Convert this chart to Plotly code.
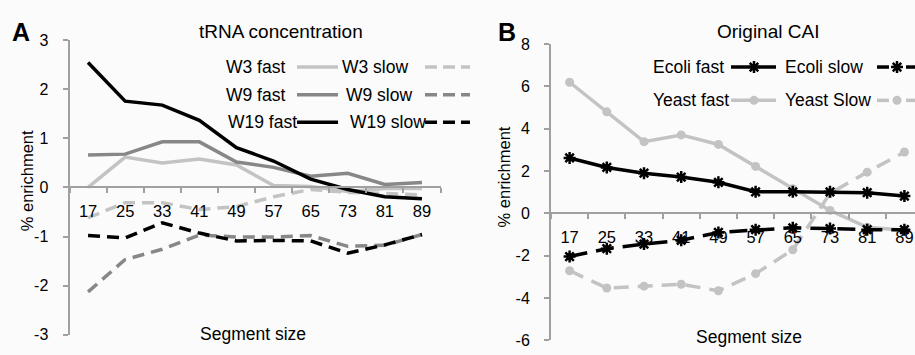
import plotly.graph_objects as go

# ---------------- data ----------------
segments = ["17", "25", "33", "41", "49", "57", "65", "73", "81", "89"]

w3_fast = [0.0, 0.62, 0.50, 0.58, 0.46, 0.04, 0.02, -0.08, -0.02, -0.02]
w3_slow = [-0.62, -0.31, -0.31, -0.45, -0.39, -0.19, -0.04, -0.10, -0.12, -0.15]
w9_fast = [0.66, 0.68, 0.93, 0.93, 0.52, 0.41, 0.23, 0.29, 0.06, 0.10]
w9_slow = [-2.13, -1.47, -1.26, -0.97, -1.01, -1.01, -0.98, -1.20, -1.18, -0.96]
w19_fast = [2.55, 1.76, 1.68, 1.37, 0.81, 0.54, 0.17, -0.04, -0.19, -0.23]
w19_slow = [-0.98, -1.03, -0.72, -0.93, -1.09, -1.08, -1.09, -1.34, -1.17, -0.96]

ecoli_fast = [2.62, 2.17, 1.90, 1.72, 1.47, 1.02, 1.02, 1.02, 0.98, 0.82]
ecoli_slow = [-2.04, -1.67, -1.45, -1.27, -0.90, -0.77, -0.68, -0.72, -0.77, -0.77]
yeast_fast = [6.2, 4.8, 3.39, 3.71, 3.26, 2.22, 1.17, 0.14, -0.66, -0.80]
yeast_slow = [-2.71, -3.53, -3.44, -3.35, -3.66, -2.85, -1.72, 0.95, 1.95, 2.9]

yticks_a = [-3, -2, -1, 0, 1, 2, 3]
ylabels_a = ["-3", "-2", "-1", "0", "1", "2", "3"]
yticks_b = [-6, -4, -2, 0, 2, 4, 6, 8]
ylabels_b = ["-6", "-4", "-2", "0", "2", "4", "6", "8"]

# ---------------- styling ----------------
W, H = 915, 355
FONT = "Liberation Sans, Arial, sans-serif"
LIGHT = "#c3c3c3"
MID = "#878787"
BLACK = "#000000"
AXIS = "#a0a0a0"


def px(x):
    return x / W


def py(y):
    return 1 - y / H


fig = go.Figure()

# Panel A traces
a_series = [
    (w3_fast, LIGHT, "solid"), (w3_slow, LIGHT, "12px,7px"),
    (w9_fast, MID, "solid"), (w9_slow, MID, "12px,7px"),
    (w19_fast, BLACK, "solid"), (w19_slow, BLACK, "12px,7px"),
]
for vals, col, dash in a_series:
    fig.add_trace(go.Scatter(x=segments, y=vals, mode="lines",
                             line=dict(color=col, width=3.5, dash=dash),
                             xaxis="x", yaxis="y", showlegend=False))

# Panel B traces
fig.add_trace(go.Scatter(x=segments, y=yeast_fast, mode="lines+markers",
                         line=dict(color=LIGHT, width=3.5),
                         marker=dict(symbol="circle", size=9, color=LIGHT),
                         xaxis="x2", yaxis="y2", showlegend=False))
fig.add_trace(go.Scatter(x=segments, y=yeast_slow, mode="lines+markers",
                         line=dict(color=LIGHT, width=3.5, dash="15px,9px"),
                         marker=dict(symbol="circle", size=9, color=LIGHT),
                         xaxis="x2", yaxis="y2", showlegend=False))
fig.add_trace(go.Scatter(x=segments, y=ecoli_fast, mode="lines+markers",
                         line=dict(color=BLACK, width=3.5),
                         marker=dict(symbol="asterisk-open", size=10, color=BLACK,
                                     line=dict(width=2.5, color=BLACK)),
                         xaxis="x2", yaxis="y2", showlegend=False))
fig.add_trace(go.Scatter(x=segments, y=ecoli_slow, mode="lines+markers",
                         line=dict(color=BLACK, width=3.5, dash="18px,9px"),
                         marker=dict(symbol="asterisk-open", size=10, color=BLACK,
                                     line=dict(width=2.5, color=BLACK)),
                         xaxis="x2", yaxis="y2", showlegend=False))


# ---------------- legend samples on a pixel overlay axis ----------------
def seg(x0, x1, y, col, dash="solid"):
    fig.add_trace(go.Scatter(x=[x0, x1], y=[y, y], mode="lines",
                             line=dict(color=col, width=3.5, dash=dash),
                             xaxis="x3", yaxis="y3", showlegend=False,
                             hoverinfo="skip"))


def mark(xm, y, col, symbol):
    mk = dict(symbol=symbol, size=10 if "asterisk" in symbol else 9, color=col)
    if "asterisk" in symbol:
        mk["line"] = dict(width=2.5, color=col)
    fig.add_trace(go.Scatter(x=[xm], y=[y], mode="markers", marker=mk,
                             xaxis="x3", yaxis="y3", showlegend=False,
                             hoverinfo="skip"))


LEG = 17.5
leg_a = [
    ("W3 fast", "W3 slow", LIGHT, 62, 224, 340),
    ("W9 fast", "W9 slow", MID, 91, 224, 344),
    ("W19 fast", "W19 slow", BLACK, 120, 226, 348),
]
ann = []
for fast_t, slow_t, col, y, xf, xs in leg_a:
    ann.append(dict(text=fast_t, x=px(xf), y=py(y), xanchor="left", yanchor="middle"))
    ann.append(dict(text=slow_t, x=px(xs), y=py(y), xanchor="left", yanchor="middle"))
    seg(297, 338, y, col)
    seg(425, 470, y, col, dash="12px,6px")

leg_b = [
    ("Ecoli fast", "Ecoli slow", BLACK, 62, "asterisk-open"),
    ("Yeast fast", "Yeast Slow", LIGHT, 97, "circle"),
]
for fast_t, slow_t, col, y, sym in leg_b:
    ann.append(dict(text=fast_t, x=px(651), y=py(y), xanchor="left", yanchor="middle"))
    ann.append(dict(text=slow_t, x=px(783), y=py(y), xanchor="left", yanchor="middle"))
    seg(731, 776, y, col)
    mark(754, y, col, sym)
    seg(877, 889, y, col)
    seg(906, 916, y, col)
    mark(897, y, col, sym)

for a in ann:
    a.update(xref="paper", yref="paper", showarrow=False,
             font=dict(family=FONT, size=LEG, color="black"))

# titles, axis titles, panel labels
extra = [
    dict(text="tRNA concentration", x=px(281), y=py(25), font=dict(size=19)),
    dict(text="Original CAI", x=px(768), y=py(25), font=dict(size=19)),
    dict(text="Segment size", x=px(253), y=py(342), font=dict(size=17.5)),
    dict(text="Segment size", x=px(749), y=py(346), font=dict(size=17.5)),
    dict(text="% enrichment", x=px(27), y=py(182), textangle=-90, font=dict(size=16.5)),
    dict(text="% enrichment", x=px(504), y=py(178), textangle=-90, font=dict(size=16.5)),
    dict(text="<b>A</b>", x=px(21), y=py(25), font=dict(size=25)),
    dict(text="<b>B</b>", x=px(507), y=py(25), font=dict(size=25)),
]
for e in extra:
    f = dict(family=FONT, color="black")
    f.update(e.pop("font"))
    e.update(xref="paper", yref="paper", showarrow=False, xanchor="center",
             yanchor="middle", font=f)
    ann.append(e)

# ---------------- axes ----------------
ya_dom = [py(343), py(34)]
yb_dom = [py(349), py(38)]

zero_a = ya_dom[0] + (ya_dom[1] - ya_dom[0]) * (0 - (-3)) / 6
zero_b = yb_dom[0] + (yb_dom[1] - yb_dom[0]) * (0 - (-6)) / 14

xcommon = dict(type="category", showline=True, linecolor=AXIS, linewidth=2,
               ticks="outside", tickson="boundaries", ticklen=5, tickcolor=AXIS,
               tickwidth=2, showgrid=False, zeroline=False, anchor="free",
               tickfont=dict(family=FONT, size=16.5, color="black"),
               ticklabelstandoff=9, fixedrange=True)
ycommon = dict(showline=True, linecolor=AXIS, linewidth=2, ticks="outside",
               ticklen=5, tickcolor=AXIS, tickwidth=2, showgrid=False,
               zeroline=False, tickfont=dict(family=FONT, size=16, color="black"),
               ticklabelstandoff=11, fixedrange=True)

fig.update_layout(
    width=W, height=H,
    margin=dict(l=0, r=0, t=0, b=0),
    paper_bgcolor="#fbfbfb", plot_bgcolor="rgba(0,0,0,0)",
    font=dict(family=FONT, color="black"),
    showlegend=False,
    xaxis=dict(domain=[px(69.5), px(440.5)], range=[-0.5, 9.5],
               position=zero_a, categoryarray=segments, categoryorder="array",
               **xcommon),
    yaxis=dict(domain=ya_dom, range=[-3, 3], tickvals=yticks_a,
               ticktext=ylabels_a, anchor="x", **ycommon),
    xaxis2=dict(domain=[px(551), 1.0], range=[-0.5, 9.5 - 8 / 37.2],
                position=zero_b, categoryarray=segments, categoryorder="array",
                **xcommon),
    yaxis2=dict(domain=yb_dom, range=[-6, 8], tickvals=yticks_b,
                ticktext=ylabels_b, anchor="x2", **ycommon),
    xaxis3=dict(domain=[0, 1], range=[0, W], visible=False, fixedrange=True),
    yaxis3=dict(domain=[0, 1], range=[H, 0], visible=False, fixedrange=True,
                anchor="x3"),
    annotations=ann,
)

fig.write_html(
    "out.html",
    config={"displayModeBar": False},
    post_script="document.body.style.margin='0px';document.body.style.overflow='hidden';",
)
